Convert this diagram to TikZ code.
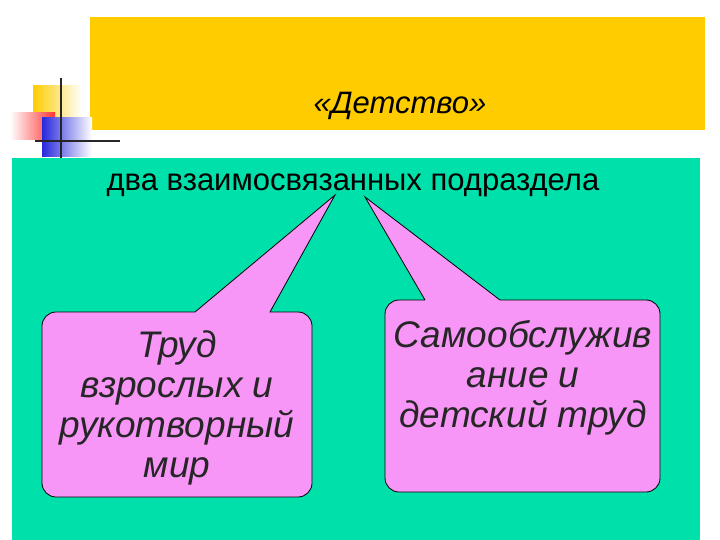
\documentclass[tikz,border=0pt]{standalone}
\usepackage{fontspec}
\setmainfont{Liberation Sans}
\begin{document}
\begin{tikzpicture}[x=1pt,y=-1pt,
  callout/.style={draw=black,fill=pinkv,line width=0.8pt},
  boxtext/.style={align=center,font=\itshape\fontsize{37}{40}\selectfont,text=black!85}]
\useasboundingbox (0,0) rectangle (720,540);
\fill[white] (0,0) rectangle (720,540);
\definecolor{gold}{RGB}{255,204,0}
\definecolor{teal}{RGB}{0,224,170}
\definecolor{blu}{RGB}{40,40,220}
\definecolor{pinkv}{RGB}{248,150,248}
\fill[gold] (90,17) rectangle (705,130);
\fill[teal] (12,158) rectangle (700,540);
% decoration
\fill[left color=gold,right color=white] (33,86) rectangle (82,118);
\fill[left color=white,right color=red!80] (10,113) rectangle (55,140);
\fill[left color=blu,right color=white] (42,118) rectangle (92,157);
\draw[line width=2.5pt,black!85] (61,78) -- (61,158);
\draw[line width=2.5pt,black!85] (35,141) -- (120,141);
\node (title) at (400,106) {\itshape\fontsize{31}{34}\selectfont «Детство»};
\node (sub) at (353,185) {\fontsize{31}{34}\selectfont два взаимосвязанных подраздела};
\coordinate (tipL) at (335,195);
\coordinate (tipR) at (365,197);
\draw[callout] (195,312) -- (tipL) -- (270,312) [rounded corners=14pt] -- (312,312) -- (312,497) -- (42,497) -- (42,312) -- (195,312);
\draw[callout] (425,300) -- (tipR) -- (500,300) [rounded corners=14pt] -- (660,300) -- (660,492) -- (385,492) -- (385,300) -- (425,300);
\node[boxtext] (L) at (177,408) {Труд\\взрослых и\\рукотворный\\мир};
\node[boxtext] (R) at (523,378) {Самообслужив\\ание и\\детский труд};
\end{tikzpicture}
\end{document}
